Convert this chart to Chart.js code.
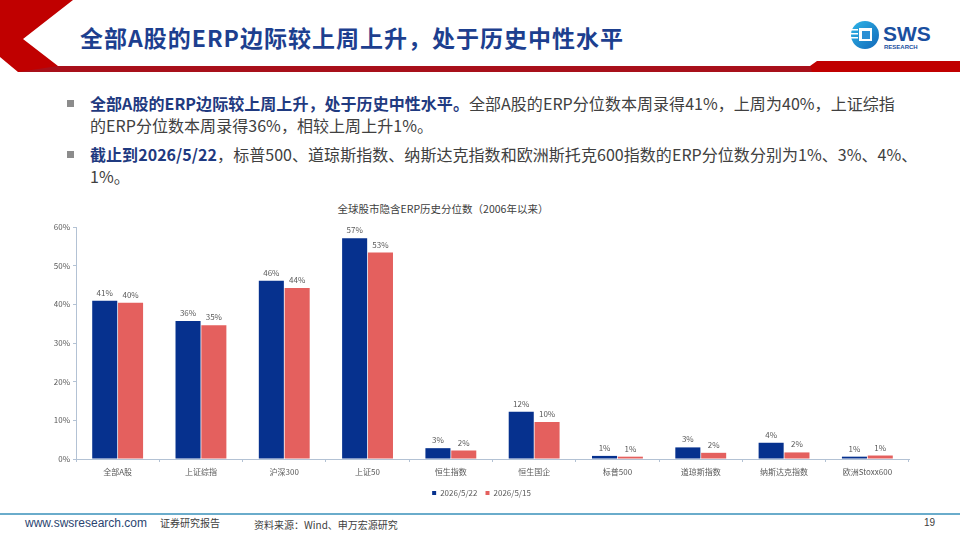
<!DOCTYPE html>
<html>
<head>
<meta charset="utf-8">
<script src="https://cdn.jsdelivr.net/npm/chart.js@4.4.1/dist/chart.umd.min.js"></script>
<style>
	html, body { margin: 0; padding: 0; background: #fff; }
	body { width: 960px; height: 540px; position: relative; overflow: hidden; font-family: "Noto Sans CJK SC", "Noto Sans", sans-serif; }
	.abs { position: absolute; white-space: nowrap; }
	#title { left: 80px; top: 20px; font-size: 23px; font-weight: 700; color: #1d3f8f; letter-spacing: 1px; }
	.bul { left: 67px; width: 7px; height: 7px; background: #8c8c8c; }
	.txt { left: 90px; font-size: 16px; color: #404040; letter-spacing: 0.05px; }
	.txt b { color: #1f3a80; }
	#ctitle { left: 0; width: 886px; top: 201px; text-align: center; font-size: 10.5px; color: #404040; }
	#foot-line { left: 0; top: 513px; width: 960px; height: 2px; background: #6aaccb; }
	.foot { top: 517px; font-size: 10px; color: #404040; }
</style>
</head>
<body>
<svg class="abs" style="left:0;top:0" width="960" height="80">
	<polygon points="0,0 73,0 23,39 58,66 810,66 817,61 960,61 960,72 18,72 0,57" fill="#c00000"/>
	<polygon points="58,66 810,66 812,72 18,72" fill="#a8101a"/>
</svg>
<div id="title" class="abs">全部A股的ERP边际较上周上升，处于历史中性水平</div>

<!-- logo -->
<svg class="abs" style="left:848px;top:17px" width="100" height="38">
	<defs>
		<linearGradient id="lg" x1="0" y1="0" x2="1" y2="1">
			<stop offset="0" stop-color="#2fb6e8"/>
			<stop offset="1" stop-color="#1267b8"/>
		</linearGradient>
	</defs>
	<circle cx="17" cy="18" r="14" fill="url(#lg)"/>
	<rect x="11" y="11" width="13" height="13" fill="#fff"/>
	<rect x="14" y="14" width="8" height="8" fill="#2a8fd4"/>
	<rect x="3" y="12" width="7" height="1.5" fill="#fff"/>
	<rect x="3" y="16" width="7" height="1.5" fill="#fff"/>
	<rect x="3" y="20" width="7" height="1.5" fill="#fff"/>
	<text x="35" y="24" font-family="Liberation Sans, Arial" font-weight="700" font-size="21" fill="#1a4f9f">SWS</text>
	<text x="36" y="32" font-family="Liberation Sans, Arial" font-weight="700" font-size="6" fill="#1a4f9f">RESEARCH</text>
</svg>

<div class="abs bul" style="top:100px"></div>
<div class="abs txt" style="top:91px"><b>全部A股的ERP边际较上周上升，处于历史中性水平。</b>全部A股的ERP分位数本周录得41%，上周为40%，上证综指</div>
<div class="abs txt" style="top:113px">的ERP分位数本周录得36%，相较上周上升1%。</div>
<div class="abs bul" style="top:151px"></div>
<div class="abs txt" style="top:142px"><b>截止到2026/5/22</b>，标普500、道琼斯指数、纳斯达克指数和欧洲斯托克600指数的ERP分位数分别为1%、3%、4%、</div>
<div class="abs txt" style="top:164px">1%。</div>

<div id="ctitle" class="abs">全球股市隐含ERP历史分位数（2006年以来）</div>

<div class="abs" style="left:30px;top:215px;width:900px;height:292px">
	<canvas id="chart" width="900" height="292"></canvas>
</div>

<div id="foot-line" class="abs"></div>
<div class="abs foot" style="left:25px;top:516px;font-family:'Liberation Sans',Arial;font-size:12px;color:#2b4470">www.swsresearch.com</div>
<div class="abs foot" style="left:160px;top:515px;">证券研究报告</div>
<div class="abs foot" style="left:254px;">资料来源：Wind、申万宏源研究</div>
<div class="abs foot" style="left:924px;font-family:'Liberation Sans',Arial">19</div>

<script>
/* data */
const categories = ['全部A股', '上证综指', '沪深300', '上证50', '恒生指数', '恒生国企', '标普500', '道琼斯指数', '纳斯达克指数', '欧洲Stoxx600']
const thisWeek = [40.9, 35.7, 46.1, 57.1, 2.8, 12.2, 0.8, 3.0, 4.2, 0.6]
const lastWeek = [40.4, 34.6, 44.2, 53.4, 2.2, 9.6, 0.6, 1.6, 1.7, 0.9]
const seriesNames = ['2026/5/22', '2026/5/15']
const yTicks = [0, 10, 20, 30, 40, 50, 60]

const axisColor = '#b3c2d4'
const labelColor = '#595959'
const fontFamily = '"Noto Sans CJK SC", "Liberation Sans", sans-serif'

// value labels above the bars
const barLabels = {
	id: 'barLabels',
	afterDatasetsDraw(chart) {
		const ctx = chart.ctx
		ctx.save()
		ctx.font = `8px ${fontFamily}`
		ctx.fillStyle = labelColor
		ctx.textAlign = 'center'
		ctx.textBaseline = 'bottom'
		chart.data.datasets.forEach((ds, i) => {
			chart.getDatasetMeta(i).data.forEach((bar, j) => {
				ctx.fillText(Math.round(ds.data[j]) + '%', bar.x, bar.y - 4)
			})
		})
		ctx.restore()
	}
}

new Chart('chart', {
	type: 'bar',
	data: {
		labels: categories,
		datasets: [
			{ label: seriesNames[0], data: thisWeek, backgroundColor: '#06318e' },
			{ label: seriesNames[1], data: lastWeek, backgroundColor: '#e4605e' }
		]
	},
	options: {
		responsive: false,
		animation: false,
		layout: { padding: { top: 12, right: 21, left: 24, bottom: 0 } },
		datasets: { bar: { categoryPercentage: 0.62, barPercentage: 0.97 } },
		plugins: {
			legend: {
				position: 'bottom',
				labels: { boxWidth: 4, boxHeight: 4, padding: 8, color: labelColor, font: { size: 8, family: fontFamily } }
			},
			tooltip: { enabled: false }
		},
		scales: {
			x: {
				grid: { display: true, drawOnChartArea: false, drawTicks: true, tickLength: 3, color: axisColor, offset: true },
				border: { color: axisColor },
				ticks: { color: labelColor, padding: 5, font: { size: 8, family: fontFamily }, maxRotation: 0 },
				afterFit: (s) => { s.height = 22 }
			},
			y: {
				min: 0,
				max: 60,
				afterBuildTicks: (s) => { s.ticks = yTicks.map((v) => ({ value: v })) },
				grid: { display: true, drawOnChartArea: false, drawTicks: true, tickLength: 3, color: axisColor },
				border: { color: axisColor },
				ticks: { color: labelColor, padding: 3, font: { size: 8, family: fontFamily }, callback: (v) => v + '%' },
				afterFit: (s) => { s.width = 22 }
			}
		}
	},
	plugins: [barLabels]
})
</script>
</body>
</html>
